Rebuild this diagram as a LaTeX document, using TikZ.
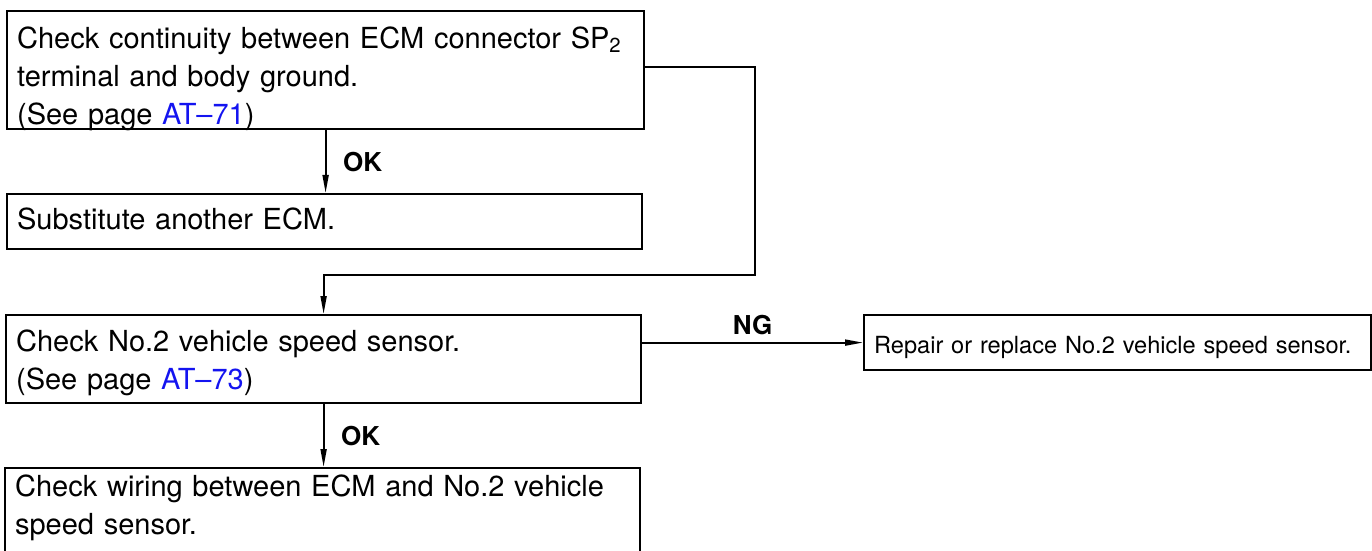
\documentclass[tikz,border=0pt]{standalone}
\usepackage{fontspec}
\setmainfont{TeX Gyre Heros}
\usepackage{xcolor}
\usetikzlibrary{arrows.meta, positioning}
\definecolor{linkblue}{RGB}{20,20,240}

\begin{document}
\begin{tikzpicture}[
  x=0.5pt, y=-0.5pt,
  every node/.style={font=\fontsize{14.5}{19}\selectfont},
  stepbox/.style={draw, line width=1.1pt, anchor=north west, align=left,
                  inner xsep=5pt, inner ysep=0pt},
  smallbox/.style={stepbox, font=\fontsize{11.8}{15}\selectfont},
  arr/.style={-{Triangle[length=9pt, width=3pt]}, line width=0.9pt},
  lbl/.style={font=\fontsize{13}{15}\selectfont\bfseries},
]
\useasboundingbox (0,0) rectangle (1372,551);

%% ── STEP BOXES ────────────────────────────────────────────────────────
\node[stepbox, text width=308.5pt, text height=18.5pt, text depth=40.5pt]
  (contin) at (6,10)
  {Check continuity between ECM connector SP\textsubscript{2}\\
   terminal and body ground.\\
   (See page \textcolor{linkblue}{AT--71})};

\node[stepbox, text width=307.5pt, text height=17.5pt, text depth=10pt]
  (substecm) at (6,193) {Substitute another ECM.};

\node[stepbox, text width=307.5pt, text height=18pt, text depth=26pt]
  (sensor) at (5,314)
  {Check No.2 vehicle speed sensor.\\
   (See page \textcolor{linkblue}{AT--73})};

\node[smallbox, text width=243.5pt, text height=19pt, text depth=8.5pt]
  (repair) at (863,314) {Repair or replace No.2 vehicle speed sensor.};

\node[stepbox, text width=307.5pt, text height=14pt, text depth=40pt]
  (wiring) at (4,467)
  {Check wiring between ECM and No.2 vehicle\\
   speed sensor.};

%% ── BYPASS CORNER ─────────────────────────────────────────────────────
\coordinate (loopr) at (755,275);

%% ═════════════════════════════════════════════════════════════════════
%% ARROWS
%% ═════════════════════════════════════════════════════════════════════

%% continuity OK → substitute ECM
\draw[arr] (contin.south) -- node[right=5pt, lbl]{OK} (contin.south |- substecm.north);

%% continuity NG → speed sensor check
\draw[arr] ([yshift=1.5pt]contin.east) -| (loopr) -| (sensor.north);

%% speed sensor NG → repair
\draw[arr] (sensor.east |- repair.west) -- node[above, lbl]{NG} (repair.west);

%% speed sensor OK → wiring check
\draw[arr] (sensor.south) -- node[right=5pt, lbl]{OK} (sensor.south |- wiring.north);

\end{tikzpicture}
\end{document}
